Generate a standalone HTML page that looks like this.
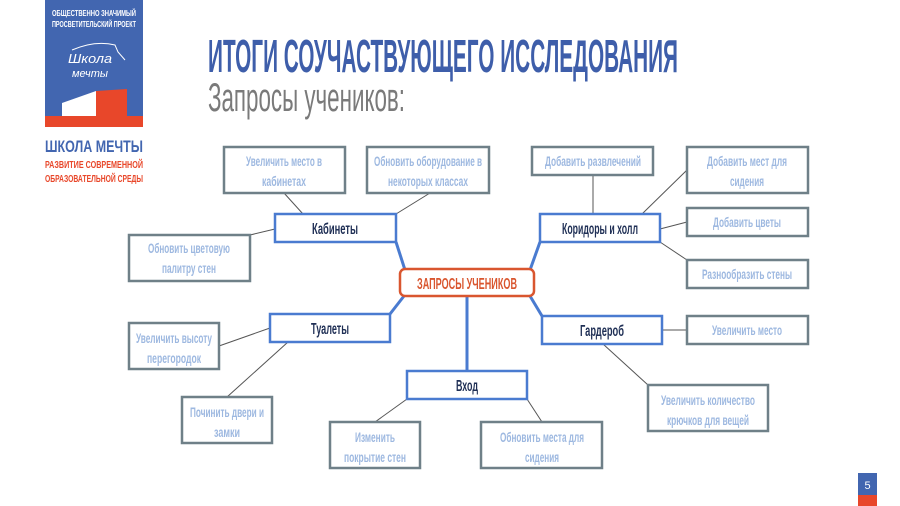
<!DOCTYPE html>
<html><head><meta charset="utf-8"><style>
html,body{margin:0;padding:0;background:#fff;width:900px;height:506px;overflow:hidden}
svg text{font-family:"Liberation Sans","Noto Sans CJK SC",sans-serif}
</style></head><body>
<svg width="900" height="506" viewBox="0 0 900 506" xmlns="http://www.w3.org/2000/svg">
<rect x="45" y="0" width="98" height="118" fill="#4266b0"/>
<text x="94" y="16" font-size="8" fill="#fff" font-weight="bold" text-anchor="middle" textLength="84" lengthAdjust="spacingAndGlyphs">ОБЩЕСТВЕННО ЗНАЧИМЫЙ</text>
<text x="94" y="27" font-size="8" fill="#fff" font-weight="bold" text-anchor="middle" textLength="84" lengthAdjust="spacingAndGlyphs">ПРОСВЕТИТЕЛЬСКИЙ ПРОЕКТ</text>
<text x="90" y="63" font-size="13" fill="#fff" font-style="italic" text-anchor="middle" textLength="44" lengthAdjust="spacingAndGlyphs">Школа</text>
<text x="90" y="77" font-size="11" fill="#fff" font-style="italic" text-anchor="middle" textLength="36" lengthAdjust="spacingAndGlyphs">мечты</text>
<path d="M72 50 Q95 40 115 45 L118 52 L125 60" stroke="#fff" fill="none" stroke-width="1"/>
<polygon points="62,103 96,91 96,116 62,116" fill="#fff"/>
<polygon points="96,91 127,89 127,116 96,116" fill="#e8472a"/>
<rect x="45" y="116" width="98" height="11" fill="#e8472a"/>
<text x="94" y="152" font-size="17" fill="#4266b0" font-weight="bold" text-anchor="middle" textLength="98" lengthAdjust="spacingAndGlyphs">ШКОЛА МЕЧТЫ</text>
<text x="94" y="168" font-size="10" fill="#e8472a" font-weight="bold" text-anchor="middle" textLength="98" lengthAdjust="spacingAndGlyphs">РАЗВИТИЕ СОВРЕМЕННОЙ</text>
<text x="94" y="182" font-size="10" fill="#e8472a" font-weight="bold" text-anchor="middle" textLength="98" lengthAdjust="spacingAndGlyphs">ОБРАЗОВАТЕЛЬНОЙ СРЕДЫ</text>
<text x="208" y="72" font-size="46" fill="#3e5eaa" font-weight="bold" textLength="470" lengthAdjust="spacingAndGlyphs">ИТОГИ СОУЧАСТВУЮЩЕГО ИССЛЕДОВАНИЯ</text>
<text x="208" y="111" font-size="40" fill="#7a7a7a" textLength="197" lengthAdjust="spacingAndGlyphs">Запросы учеников:</text>
<g stroke="#555" stroke-width="1" fill="none">
<line x1="284" y1="193" x2="303" y2="214"/>
<line x1="430" y1="193" x2="396" y2="214"/>
<line x1="250" y1="235" x2="275" y2="229"/>
<line x1="593" y1="175" x2="593" y2="214"/>
<line x1="687" y1="170" x2="642" y2="214"/>
<line x1="687" y1="222" x2="660" y2="229"/>
<line x1="687" y1="260" x2="660" y2="242"/>
<line x1="219" y1="346" x2="270" y2="328"/>
<line x1="227" y1="397" x2="288" y2="342"/>
<line x1="662" y1="330" x2="687" y2="330"/>
<line x1="603" y1="344" x2="648" y2="385"/>
<line x1="375" y1="422" x2="407" y2="399"/>
<line x1="542" y1="422" x2="527" y2="399"/>
</g>
<g stroke="#4a7bd0" stroke-width="3" fill="none">
<line x1="396" y1="242" x2="405" y2="270"/>
<line x1="540" y1="242" x2="530" y2="270"/>
<line x1="390" y1="314" x2="404" y2="296"/>
<line x1="542" y1="316" x2="530" y2="296"/>
<line x1="467" y1="296" x2="467" y2="371"/>
</g>
<g fill="#fff" stroke="#6f8088" stroke-width="2.5">
<rect x="224" y="147" width="121" height="46"/>
<rect x="367" y="147" width="122" height="46"/>
<rect x="129" y="235" width="121" height="46"/>
<rect x="532" y="147" width="121" height="28"/>
<rect x="687" y="147" width="121" height="46"/>
<rect x="687" y="208" width="121" height="28"/>
<rect x="687" y="260" width="121" height="28"/>
<rect x="129" y="323" width="90" height="46"/>
<rect x="687" y="316" width="121" height="28"/>
<rect x="182" y="397" width="90" height="46"/>
<rect x="330" y="422" width="90" height="46"/>
<rect x="481" y="422" width="121" height="46"/>
<rect x="648" y="385" width="120" height="46"/>
</g>
<g fill="#9db8e0" font-size="14" font-weight="bold" text-anchor="middle">
<text x="284" y="166" textLength="76" lengthAdjust="spacingAndGlyphs">Увеличить место в</text>
<text x="284" y="186" textLength="44" lengthAdjust="spacingAndGlyphs">кабинетах</text>
<text x="428" y="166" textLength="108" lengthAdjust="spacingAndGlyphs">Обновить оборудование в</text>
<text x="428" y="186" textLength="80" lengthAdjust="spacingAndGlyphs">некоторых классах</text>
<text x="189" y="253" textLength="82" lengthAdjust="spacingAndGlyphs">Обновить цветовую</text>
<text x="189" y="273" textLength="54" lengthAdjust="spacingAndGlyphs">палитру стен</text>
<text x="593" y="166" textLength="96" lengthAdjust="spacingAndGlyphs">Добавить развлечений</text>
<text x="747" y="166" textLength="80" lengthAdjust="spacingAndGlyphs">Добавить мест для</text>
<text x="747" y="186" textLength="34" lengthAdjust="spacingAndGlyphs">сидения</text>
<text x="747" y="227" textLength="68" lengthAdjust="spacingAndGlyphs">Добавить цветы</text>
<text x="747" y="279" textLength="90" lengthAdjust="spacingAndGlyphs">Разнообразить стены</text>
<text x="174" y="343" textLength="76" lengthAdjust="spacingAndGlyphs">Увеличить высоту</text>
<text x="174" y="363" textLength="54" lengthAdjust="spacingAndGlyphs">перегородок</text>
<text x="747" y="335" textLength="70" lengthAdjust="spacingAndGlyphs">Увеличить место</text>
<text x="227" y="417" textLength="74" lengthAdjust="spacingAndGlyphs">Починить двери и</text>
<text x="227" y="437" textLength="26" lengthAdjust="spacingAndGlyphs">замки</text>
<text x="375" y="442" textLength="40" lengthAdjust="spacingAndGlyphs">Изменить</text>
<text x="375" y="462" textLength="62" lengthAdjust="spacingAndGlyphs">покрытие стен</text>
<text x="542" y="442" textLength="84" lengthAdjust="spacingAndGlyphs">Обновить места для</text>
<text x="542" y="462" textLength="34" lengthAdjust="spacingAndGlyphs">сидения</text>
<text x="708" y="405" textLength="94" lengthAdjust="spacingAndGlyphs">Увеличить количество</text>
<text x="708" y="425" textLength="82" lengthAdjust="spacingAndGlyphs">крючков для вещей</text>
</g>
<g fill="#fff" stroke="#4a7bd0" stroke-width="2.5">
<rect x="275" y="214" width="121" height="28"/>
<rect x="540" y="214" width="120" height="28"/>
<rect x="270" y="314" width="120" height="28"/>
<rect x="542" y="316" width="120" height="28"/>
<rect x="407" y="371" width="120" height="28"/>
</g>
<g fill="#1f2f55" font-size="16" font-weight="bold" text-anchor="middle">
<text x="335" y="234" textLength="46" lengthAdjust="spacingAndGlyphs">Кабинеты</text>
<text x="600" y="234" textLength="76" lengthAdjust="spacingAndGlyphs">Коридоры и холл</text>
<text x="330" y="334" textLength="38" lengthAdjust="spacingAndGlyphs">Туалеты</text>
<text x="602" y="336" textLength="44" lengthAdjust="spacingAndGlyphs">Гардероб</text>
<text x="467" y="391" textLength="22" lengthAdjust="spacingAndGlyphs">Вход</text>
</g>
<rect x="400" y="269" width="134" height="27" rx="5" fill="#fff" stroke="#d9562f" stroke-width="2.5"/>
<text x="467" y="289" font-size="16" font-weight="bold" fill="#d9562f" text-anchor="middle" textLength="100" lengthAdjust="spacingAndGlyphs">ЗАПРОСЫ УЧЕНИКОВ</text>
<rect x="858" y="473" width="19" height="22" fill="#4266b0"/>
<rect x="858" y="495" width="19" height="11" fill="#e8472a"/>
<text x="867.5" y="489" font-size="11" fill="#fff" text-anchor="middle">5</text>
</svg>
</body></html>
